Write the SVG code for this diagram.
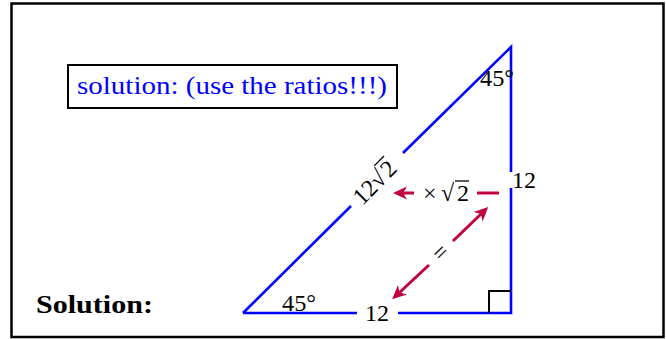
<svg xmlns="http://www.w3.org/2000/svg" width="666" height="339" viewBox="0 0 666 339">
<style>
.t{font-family:'Liberation Serif','Times New Roman',serif;font-size:24px;fill:#000}
.tri{stroke:#0000FF;stroke-width:2.6;fill:none;stroke-linecap:butt}
.red{stroke:#BF0040;stroke-width:3;fill:none}
.blk{stroke:#000;fill:none}
</style>
<defs>
<marker id="ah" markerUnits="userSpaceOnUse" viewBox="-6 -8 17 16" refX="0" refY="0" markerWidth="17" markerHeight="16" orient="auto">
<path d="M10,0 L-4,-6.5 L0,0 L-4,6.5 Z" fill="#BF0040"/>
</marker>
</defs>
<rect x="11.5" y="3.5" width="652" height="333.5" class="blk" stroke-width="2.5"/>
<g id="note">
<rect x="68" y="65" width="329" height="43" class="blk" stroke-width="2"/>
<text x="77" y="94" font-family="Liberation Serif, serif" font-size="25" fill="#0000FF" textLength="310" lengthAdjust="spacingAndGlyphs">solution: (use the ratios!!!)</text>
</g>
<g id="title">
<text x="36" y="313" font-family="Liberation Serif, serif" font-size="26" font-weight="bold" fill="#000" textLength="117" lengthAdjust="spacingAndGlyphs">Solution:</text>
</g>
<g id="triangle" font-family="Liberation Serif, serif">
<path class="tri" d="M243,313 L351,206 M403,153 L511,47 L511,172 M511,188 L511,313 L398,313 M357,313 L243,313"/>
<path class="blk" stroke-width="2" d="M489,313 L489,291 L511,291"/>
<text class="t" x="282" y="311" textLength="34" lengthAdjust="spacingAndGlyphs">45°</text>
<text class="t" x="480" y="86" textLength="34" lengthAdjust="spacingAndGlyphs">45°</text>
<text class="t" x="365" y="321">12</text>
<text class="t" x="512" y="188">12</text>
<g transform="translate(377,180) rotate(-45)">
<text class="t" x="-29" y="8">12</text>
<text class="t" x="-5" y="8" font-size="27">√</text>
<text class="t" x="10" y="8">2</text>
<line x1="8" y1="-12" x2="22" y2="-12" stroke="#000" stroke-width="1.3"/>
</g>
</g>
<g id="connectors">
<line class="red" x1="477" y1="193" x2="499" y2="193"/>
<line class="red" x1="414" y1="193" x2="403" y2="193" marker-end="url(#ah)"/>
<line class="red" x1="429" y1="265" x2="399.5" y2="292.5" marker-end="url(#ah)"/>
<line class="red" x1="453" y1="241" x2="481" y2="214" marker-end="url(#ah)"/>
</g>
<g id="labels" font-family="Liberation Serif, serif">
<text class="t" x="423" y="201">×</text>
<text class="t" x="441" y="201" font-size="27">√</text>
<text class="t" x="457" y="201">2</text>
<line x1="455" y1="181" x2="469" y2="181" stroke="#000" stroke-width="1.3"/>
<g transform="translate(441,253) rotate(-44)">
<text class="t" x="0" y="7" text-anchor="middle" font-size="30">=</text>
</g>
</g>
</svg>
